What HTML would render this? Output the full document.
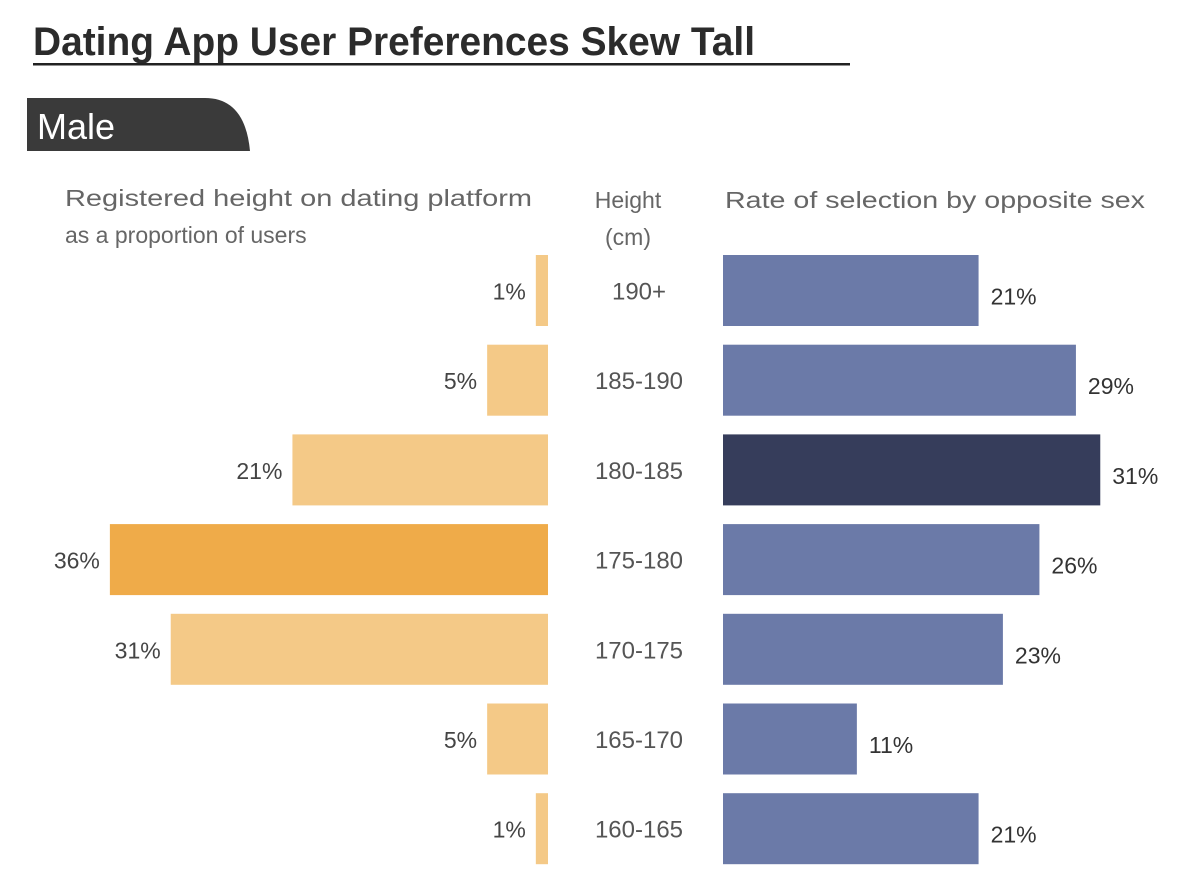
<!DOCTYPE html>
<html><head><meta charset="utf-8"><style>
html,body{margin:0;padding:0;background:#fff;}
svg{display:block;font-family:"Liberation Sans",sans-serif;}
</style></head><body>
<svg id="chart" width="1200" height="882" viewBox="0 0 1200 882">
<text x="33" y="55" font-size="40" font-weight="bold" fill="#2b2b2b" textLength="722" lengthAdjust="spacingAndGlyphs">Dating App User Preferences Skew Tall</text>
<rect x="33" y="63" width="817" height="2.5" fill="#222"/>
<path d="M27 98 H205 Q245 98 250 151 H27 Z" fill="#3a3a3a"/>
<text x="37" y="139" font-size="36" fill="#fff">Male</text>
<text font-size="23" fill="#666"><tspan x="65" y="206" textLength="467" lengthAdjust="spacingAndGlyphs">Registered height on dating platform</tspan><tspan x="65" y="243">as a proportion of users</tspan></text>
<text font-size="23" fill="#666" text-anchor="middle"><tspan x="628" y="208">Height</tspan><tspan x="628" y="245">(cm)</tspan></text>
<text x="725" y="208" font-size="23" fill="#666" textLength="420" lengthAdjust="spacingAndGlyphs">Rate of selection by opposite sex</text>
<g id="bars"></g>
</svg>
<script>
const categories=["190+","185-190","180-185","175-180","170-175","165-170","160-165"];
const userShare=[1,5,21,36,31,5,1];
const selectionRate=[21,29,31,26,23,11,21];
const NS="http://www.w3.org/2000/svg";
const g=document.getElementById("bars");
const pxPer=12.17, leftEdge=548, rightStart=723, top0=255, pitch=89.7, bh=71;
const y=i=>top0+i*pitch;
const maxL=Math.max(...userShare), maxR=Math.max(...selectionRate);
function mk(tag,attrs){const e=document.createElementNS(NS,tag);for(const k in attrs)e.setAttribute(k,attrs[k]);g.appendChild(e);return e;}
categories.forEach((c,i)=>{
  const wl=userShare[i]*pxPer, wr=selectionRate[i]*pxPer, yy=y(i);
  const lb=mk("rect",{x:leftEdge-wl,y:yy,width:wl,height:bh,fill:userShare[i]===maxL?"#EFAB49":"#F4C987"});
  
  
  const lt=mk("text",{x:leftEdge-wl-10,y:yy+bh/2+9,"font-size":23,fill:"#444","text-anchor":"end"});
  lt.textContent=userShare[i]+"%";
  
  
  const ct=mk("text",{x:639,y:yy+bh/2+9,"font-size":24,fill:"#555","text-anchor":"middle"});
  ct.textContent=c;
  
  
  const rb=mk("rect",{x:rightStart,y:yy,width:wr,height:bh,fill:selectionRate[i]===maxR?"#363D5B":"#6B7AA8"});
  
  
  const rt=mk("text",{x:rightStart+wr+12,y:yy+bh/2+14,"font-size":23,fill:"#333"});
  rt.textContent=selectionRate[i]+"%";
  
  
});
</script>
</body></html>
